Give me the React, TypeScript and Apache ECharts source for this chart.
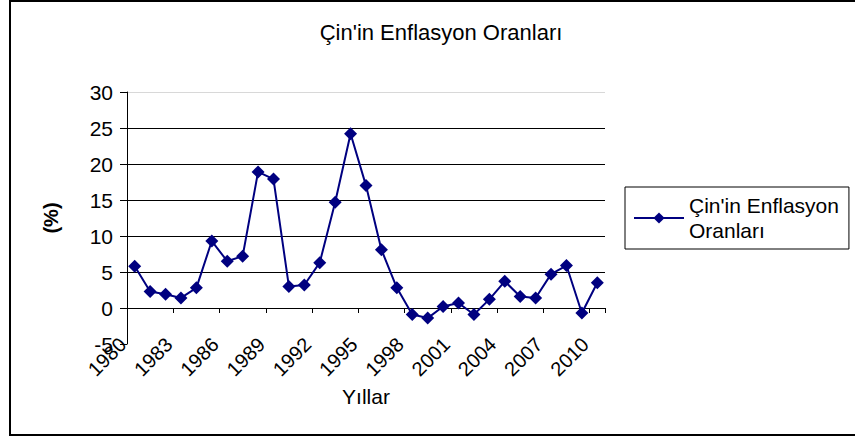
import React, { useEffect, useRef } from "react";
import * as echarts from "echarts";

const years: string[] = [
  "1980", "1981", "1982", "1983", "1984", "1985", "1986", "1987", "1988", "1989",
  "1990", "1991", "1992", "1993", "1994", "1995", "1996", "1997", "1998", "1999",
  "2000", "2001", "2002", "2003", "2004", "2005", "2006", "2007", "2008", "2009", "2010",
];
const inflation: number[] = [
  5.8, 2.3, 1.9, 1.4, 2.8, 9.3, 6.5, 7.2, 18.9, 17.9,
  3.0, 3.2, 6.3, 14.7, 24.2, 17.0, 8.1, 2.8, -0.9, -1.4,
  0.2, 0.7, -0.9, 1.2, 3.7, 1.6, 1.4, 4.7, 5.9, -0.7, 3.5,
];
const seriesName = "Çin'in Enflasyon Oranları";
const titleText = "Çin'in Enflasyon Oranları";
const xName = "Yıllar";
const yName = "(%)";

const FONT = "'Liberation Sans', Arial, sans-serif";

export default function App() {
  const ref = useRef<HTMLDivElement>(null);
  useEffect(() => {
    if (!ref.current) return;
    const chart = echarts.init(ref.current, undefined, { renderer: "svg" });
    chart.setOption({
      animation: false,
      backgroundColor: "#fff",
      textStyle: { fontFamily: FONT },
      title: {
        text: titleText,
        left: 436,
        top: 16,
        textAlign: "center",
        textStyle: { fontSize: 22, fontWeight: "normal", color: "#000", fontFamily: FONT },
      },
      graphic: [
        {
          type: "rect",
          shape: { x: 10, y: 1, width: 900, height: 434 },
          style: { fill: "none", stroke: "#000", lineWidth: 2 },
          silent: true,
        },
      ],
      legend: {
        left: 625,
        top: 187,
        orient: "vertical",
        borderColor: "#000",
        borderWidth: 1,
        borderRadius: 0,
        padding: [6, 10, 6, 8],
        itemWidth: 50,
        itemHeight: 14,
        itemGap: 5,
        data: [seriesName],
        formatter: () => "Çin'in Enflasyon\nOranları",
        textStyle: { fontSize: 21, color: "#000", fontFamily: FONT, lineHeight: 25 },
      },
      grid: [
        { left: 127, right: 250, top: 92, bottom: 93, containLabel: false, outerBoundsMode: "none" },
        { left: 115, right: 262, top: 92, bottom: 93, containLabel: false, outerBoundsMode: "none" },
      ],
      xAxis: [
        {
          type: "category",
          gridIndex: 0,
          data: years,
          boundaryGap: true,
          axisLine: { onZero: true, lineStyle: { color: "#000", width: 1 } },
          axisTick: { show: true, length: 5, lineStyle: { color: "#000" } },
          axisLabel: { show: false },
          splitLine: { show: false },
          name: xName,
          nameLocation: "middle",
          nameGap: 42,
          nameTextStyle: { fontSize: 21, color: "#000", fontFamily: FONT },
        },
        {
          type: "category",
          gridIndex: 1,
          data: years,
          position: "bottom",
          boundaryGap: true,
          axisLine: { show: false, onZero: false },
          axisTick: { show: false },
          splitLine: { show: false },
          axisLabel: {
            interval: 2,
            rotate: 45,
            margin: -3,
            fontSize: 20,
            color: "#000",
            fontFamily: FONT,
          },
        },
      ],
      yAxis: [
        {
          type: "value",
          gridIndex: 0,
          min: -5,
          max: 30,
          interval: 5,
          axisLine: { show: true, lineStyle: { color: "#000", width: 1 } },
          axisTick: { show: true, length: 7, lineStyle: { color: "#000" } },
          axisLabel: { fontSize: 21, color: "#000", margin: 14, fontFamily: FONT },
          splitLine: {
            show: true,
            lineStyle: {
              color: ["rgba(0,0,0,0)", "#000", "#000", "#000", "#000", "#000", "#000", "#d8d8d8"],
              width: 1,
            },
          },
          name: yName,
          nameLocation: "middle",
          nameRotate: 90,
          nameGap: 66,
          nameTextStyle: { fontSize: 20, fontWeight: "bold", color: "#000", fontFamily: FONT },
        },
        {
          type: "value",
          gridIndex: 1,
          show: false,
          min: -5,
          max: 30,
        },
      ],
      series: [
        {
          name: seriesName,
          type: "line",
          xAxisIndex: 0,
          yAxisIndex: 0,
          data: inflation,
          symbol: "diamond",
          symbolSize: 13,
          showSymbol: true,
          showAllSymbol: true,
          lineStyle: { color: "#000080", width: 2 },
          itemStyle: { color: "#000080" },
        },
      ],
    });
    return () => chart.dispose();
  }, []);
  return (
    <div
      ref={ref}
      style={{ position: "absolute", left: 0, top: 0, width: 855, height: 437 }}
    />
  );
}
